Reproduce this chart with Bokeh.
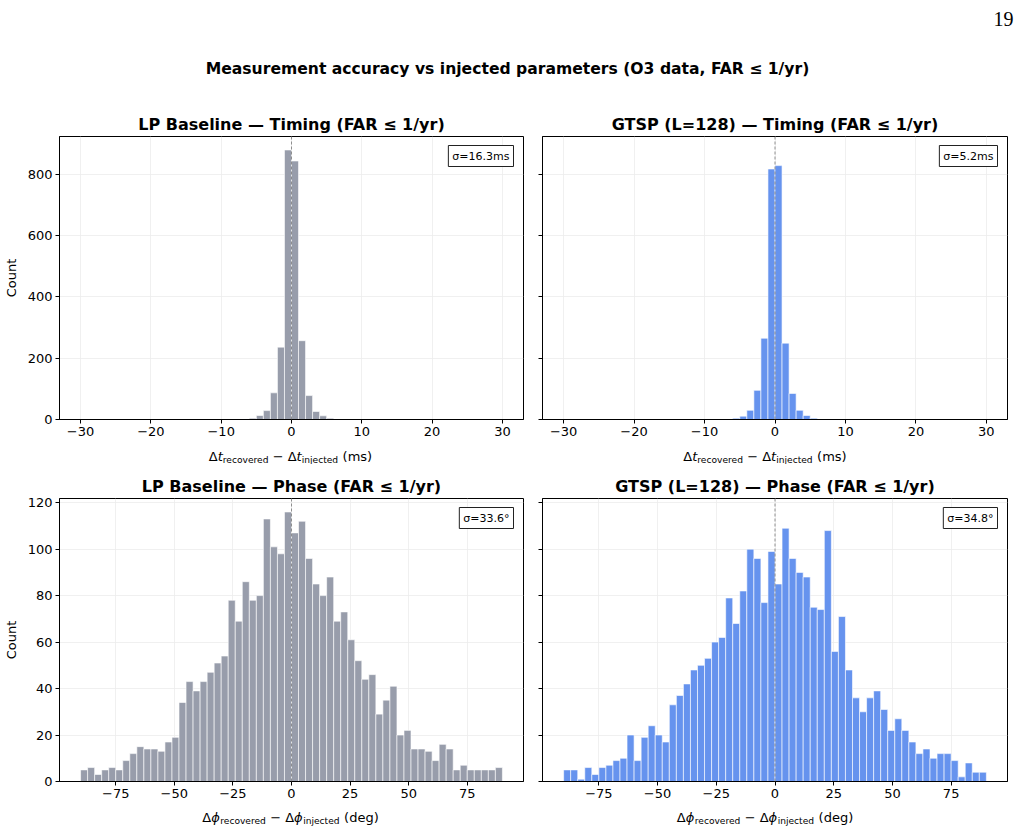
import numpy as np
from bokeh.plotting import figure
from bokeh.models import Range1d, FixedTicker, Label, Span
from bokeh.layouts import column, row
from bokeh.embed import file_html
from bokeh.resources import INLINE

FONT = "DejaVu Sans"

# ---------------- data ----------------
timing_edges = np.arange(-30, 31, 1)      # 60 bins of 1 ms
phase_edges = np.arange(-90, 91, 3)       # 60 bins of 3 deg

lp_timing_counts = [0, 0, 0, 0, 0, 0, 0, 0, 0, 0, 0, 0, 0, 0, 0, 0, 0, 0, 0, 0,
                    0, 0, 0, 1, 4, 13, 29, 87, 236, 879, 843, 257, 78, 26, 12, 4, 1, 0, 0, 0,
                    0, 0, 0, 0, 0, 0, 0, 0, 0, 0, 0, 0, 0, 0, 0, 0, 0, 0, 0, 0]
gtsp_timing_counts = [0, 0, 0, 0, 0, 0, 0, 0, 0, 0, 0, 0, 0, 0, 0, 0, 0, 0, 0, 0,
                      0, 0, 0, 2, 4, 11, 30, 95, 265, 817, 828, 249, 85, 30, 13, 4, 1, 0, 0, 0,
                      0, 0, 0, 0, 0, 0, 0, 0, 0, 0, 0, 0, 0, 0, 0, 0, 0, 0, 0, 0]
lp_phase_counts = [5, 6, 3, 5, 6, 5, 9, 12, 15, 14, 14, 13, 17, 19, 34, 43, 39, 43, 47, 51,
                   54, 78, 69, 86, 78, 80, 113, 101, 98, 116, 107, 112, 96, 85, 80, 88, 69, 73, 61, 52,
                   44, 46, 29, 35, 41, 20, 22, 14, 14, 13, 9, 16, 14, 5, 7, 5, 5, 5, 5, 6]
gtsp_phase_counts = [5, 5, 1, 6, 3, 6, 7, 9, 10, 20, 9, 19, 24, 20, 17, 33, 37, 42, 48, 50,
                     53, 60, 62, 79, 68, 82, 100, 96, 77, 99, 85, 109, 96, 90, 88, 75, 74, 108, 56, 71,
                     48, 36, 30, 36, 39, 31, 22, 27, 22, 17, 12, 14, 10, 12, 12, 9, 2, 8, 4, 4]

sigma_texts = ["σ=16.3ms", "σ=5.2ms", "σ=33.6°", "σ=34.8°"]
titles = ["LP Baseline — Timing (FAR ≤ 1/yr)", "GTSP (L=128) — Timing (FAR ≤ 1/yr)",
          "LP Baseline — Phase (FAR ≤ 1/yr)", "GTSP (L=128) — Phase (FAR ≤ 1/yr)"]
suptitle = "Measurement accuracy vs injected parameters (O3 data, FAR ≤ 1/yr)"
page_number = "19"

timing_xticks = [-30, -20, -10, 0, 10, 20, 30]
timing_xtick_labels = ["−30", "−20", "−10", "0", "10", "20", "30"]
phase_xticks = [-75, -50, -25, 0, 25, 50, 75]
phase_xtick_labels = ["−75", "−50", "−25", "0", "25", "50", "75"]
timing_yticks = [0, 200, 400, 600, 800]
phase_yticks = [0, 20, 40, 60, 80, 100, 120]

LP_COLOR = "#989dab"
GTSP_COLOR = "#6693ee"

# ---------------- helpers ----------------
EM = {'(': 0.390, ')': 0.390, '−': 0.838, 'Δ': 0.684, 't': 0.392, 'ϕ': 0.70,
      'a': 0.613, 'c': 0.550, 'd': 0.635, 'e': 0.615, 'g': 0.635, 'i': 0.278, 'j': 0.278,
      'm': 0.974, 'n': 0.634, 'o': 0.612, 'r': 0.411, 's': 0.521, 'v': 0.592}


def text_width(s, size):
    return sum(EM.get(ch, 0.6) for ch in s) * size


def blank_strip(height):
    st = figure(width=1020, height=height, x_range=Range1d(0, 1020), y_range=Range1d(height, 0),
                output_backend="svg", toolbar_location=None, min_border=0,
                x_axis_type=None, y_axis_type=None, outline_line_color=None)
    st.grid.visible = False
    return st


def add_xlabel(st, center, baseline, var, unit):
    S, s = 13, 9.1
    # (text, size, italic, baseline shift, gap before in px)
    pieces = [("Δ", S, False, 0, 0), (var, S, True, 0, 0), ("recovered", s, False, 3, 0),
              ("−", S, False, 0, 4), ("Δ", S, False, 0, 4), (var, S, True, 0, 0),
              ("injected", s, False, 3, 0), ("(" + unit + ")", S, False, 0, 4.5)]
    total = sum(text_width(t, sz) + g for t, sz, _, _, g in pieces)
    x = center - total / 2
    for t, sz, ital, dy, g in pieces:
        x += g
        st.add_layout(Label(x=x, y=baseline + dy, text=t,
                            text_font=FONT, text_font_size=f"{sz}px",
                            text_font_style="italic" if ital else "normal",
                            text_align="left", text_baseline="alphabetic", text_color="black"))
        x += text_width(t, sz)


def make_panel(counts, edges, color, xr, yr, xticks, xlabels, yticks, title, sigma,
               left, width, height, bt, bb, bl, br):
    p = figure(width=width, height=height, x_range=Range1d(*xr), y_range=Range1d(*yr),
               output_backend="svg", toolbar_location=None, title=title,
               min_border_left=bl, min_border_right=br, min_border_top=bt, min_border_bottom=bb)
    p.title.text_font = FONT
    p.title.text_font_style = "bold"
    p.title.text_font_size = "16px"
    p.title.text_color = "black"
    p.title.align = "center"
    p.title.standoff = 5
    p.outline_line_color = "black"
    p.outline_line_width = 1
    p.outline_line_alpha = 1

    p.quad(left=edges[:-1], right=edges[1:], bottom=0, top=counts,
           fill_color=color, line_color="white", line_width=0.6)
    p.add_layout(Span(location=0, dimension="height", line_color="#777777",
                      line_dash="3 2", line_width=1, line_alpha=0.8))

    p.xaxis.ticker = FixedTicker(ticks=xticks)
    p.xaxis.major_label_overrides = {v: l for v, l in zip(xticks, xlabels)}
    p.yaxis.ticker = FixedTicker(ticks=yticks)
    for ax in (p.xaxis, p.yaxis):
        ax.minor_tick_line_color = None
        ax.major_tick_out = 4
        ax.major_tick_in = 0
        ax.axis_line_color = "black"
        ax.major_tick_line_color = "black"
        ax.major_label_text_font = FONT
        ax.major_label_text_font_size = "13px"
        ax.major_label_text_color = "black"
    p.xaxis.major_label_standoff = 3
    p.yaxis.major_label_standoff = 3
    if left:
        p.yaxis.axis_label = "Count"
        p.yaxis.axis_label_text_font = FONT
        p.yaxis.axis_label_text_font_size = "13px"
        p.yaxis.axis_label_text_font_style = "normal"
        p.yaxis.axis_label_text_color = "black"
        p.yaxis.axis_label_standoff = 6
    else:
        p.yaxis.major_label_text_color = None
        p.yaxis.major_label_text_font_size = "1px"
        p.yaxis.major_label_standoff = 0

    p.xgrid.grid_line_color = "#ececec"
    p.ygrid.grid_line_color = "#ececec"
    p.xgrid.grid_line_width = 0.8
    p.ygrid.grid_line_width = 0.8

    p.add_layout(Label(x=xr[1], y=yr[1], x_offset=-10, y_offset=-9, text=sigma,
                       text_align="right", text_baseline="top", text_font=FONT,
                       text_font_size="11px", text_color="black",
                       border_line_color="#222222", border_line_width=1,
                       background_fill_color="white", padding=4))
    return p


t_ymax = max(max(lp_timing_counts), max(gtsp_timing_counts)) * 1.05
ph_ymax = max(max(lp_phase_counts), max(gtsp_phase_counts)) * 1.05

p1 = make_panel(lp_timing_counts, timing_edges, LP_COLOR, (-33, 33), (0, t_ymax),
                timing_xticks, timing_xtick_labels, timing_yticks, titles[0], sigma_texts[0],
                True, 532, 343, 36, 24, 57, 9)
p2 = make_panel(gtsp_timing_counts, timing_edges, GTSP_COLOR, (-33, 33), (0, t_ymax),
                timing_xticks, timing_xtick_labels, timing_yticks, titles[1], sigma_texts[1],
                False, 488, 343, 36, 24, 10, 13)
p3 = make_panel(lp_phase_counts, phase_edges, LP_COLOR, (-99, 99), (0, ph_ymax),
                phase_xticks, phase_xtick_labels, phase_yticks, titles[2], sigma_texts[2],
                True, 532, 341, 34, 24, 57, 9)
p4 = make_panel(gtsp_phase_counts, phase_edges, GTSP_COLOR, (-99, 99), (0, ph_ymax),
                phase_xticks, phase_xtick_labels, phase_yticks, titles[3], sigma_texts[3],
                False, 488, 341, 34, 24, 10, 13)

s1 = blank_strip(21)
add_xlabel(s1, 290, 13, "t", "ms")
add_xlabel(s1, 764.5, 13, "t", "ms")
s2 = blank_strip(23)
add_xlabel(s2, 290, 12, "ϕ", "deg")
add_xlabel(s2, 764.5, 12, "ϕ", "deg")

hdr = blank_strip(100)
hdr.add_layout(Label(x=1013, y=18, text=page_number, text_align="right", text_baseline="middle",
                     text_font="Liberation Serif", text_font_size="20px", text_color="black"))
hdr.add_layout(Label(x=507, y=68, text=suptitle, text_align="center", text_baseline="middle",
                     text_font=FONT, text_font_style="bold", text_font_size="15.6px",
                     text_color="black"))

layout = column(hdr, row(p1, p2), s1, row(p3, p4), s2)
open("out.html", "w").write(file_html(layout, INLINE))
